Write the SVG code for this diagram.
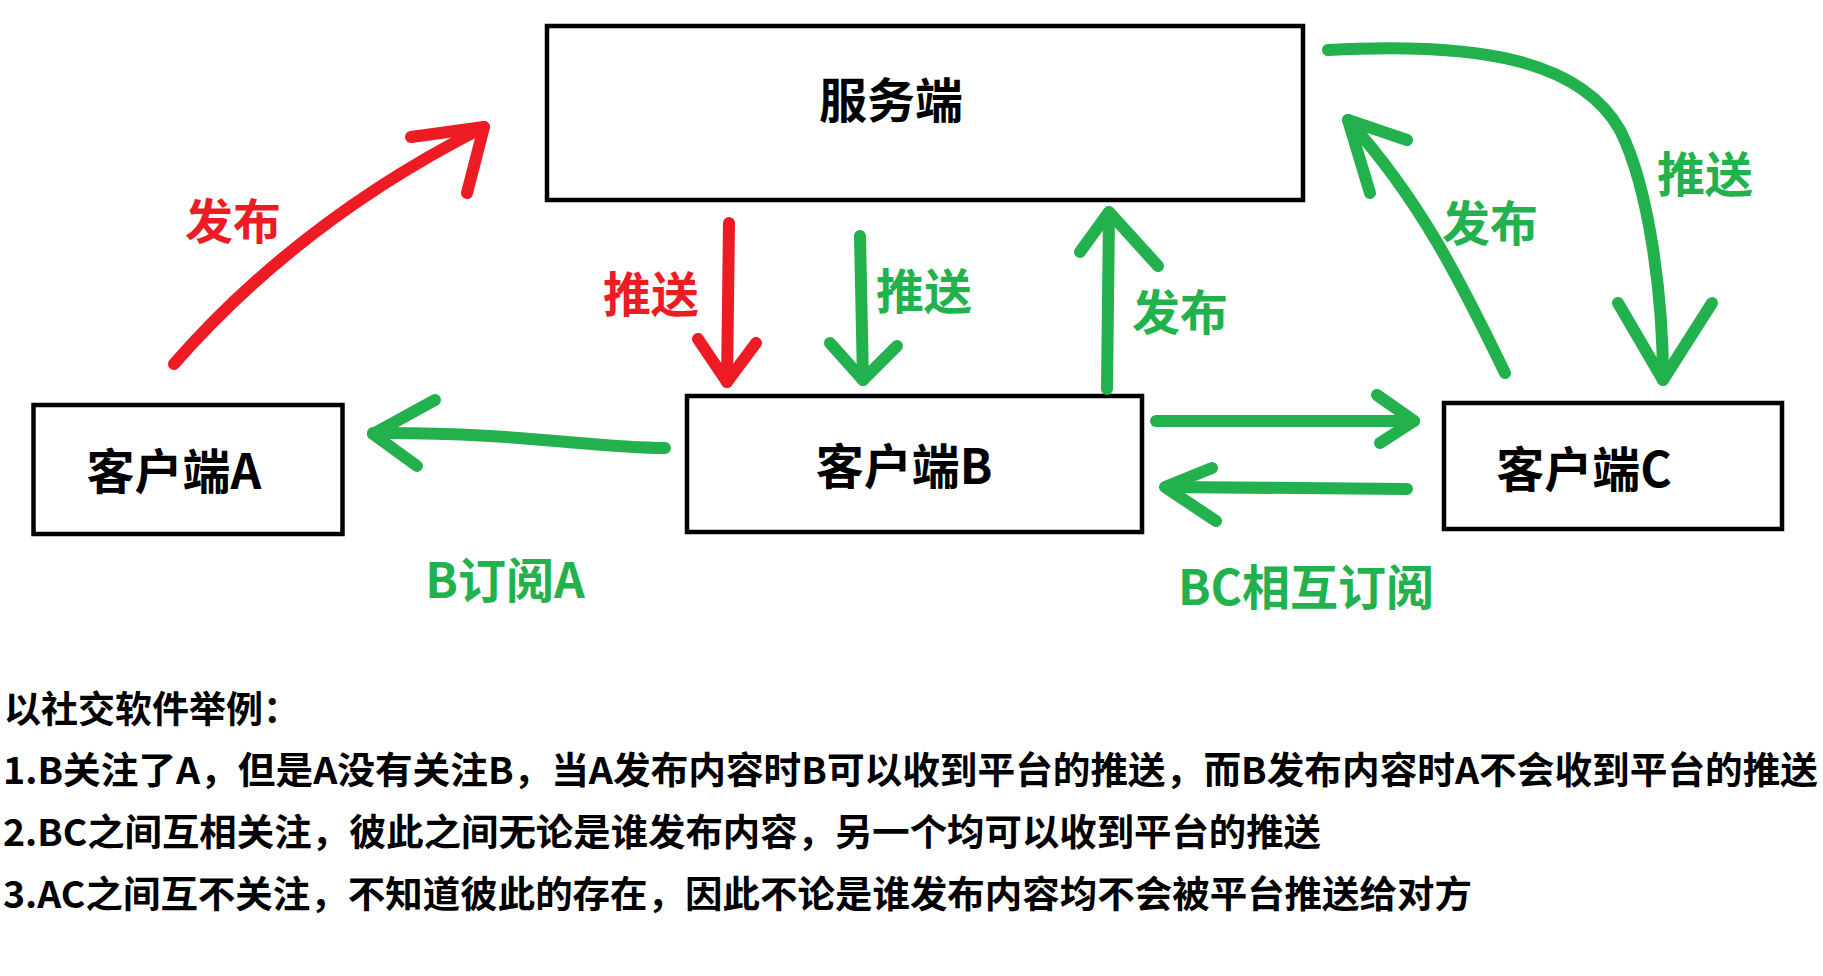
<svg xmlns="http://www.w3.org/2000/svg" width="1823" height="976" viewBox="0 0 1823 976">
<style>
.box{fill:#fff;stroke:#000;stroke-width:4.5}
.t{font-family:"Noto Sans CJK SC","Noto Sans",sans-serif;font-weight:bold}
.node{font-size:48px;fill:#000;text-anchor:middle}
.lbl{font-size:48px;text-anchor:middle}
.red{fill:#ED1C24}
.grn{fill:#22B14C}
.c{fill:none;stroke-width:12;stroke-linecap:round;stroke-linejoin:round}
.cr{stroke:#ED1C24}
.cg{stroke:#22B14C}
.note{font-size:37px;fill:#000}
</style>
<rect width="1823" height="976" fill="#fff"/>
<g id="server">
<rect class="box" x="547" y="26" width="756" height="174"/>
<text class="t node" x="891" y="118">服务端</text>
</g>
<g id="clientA">
<rect class="box" x="33.5" y="405" width="309" height="129"/>
<text class="t node" x="174" y="489">客户端A</text>
</g>
<g id="clientB">
<rect class="box" x="687" y="396" width="455" height="136"/>
<text class="t node" x="904" y="484">客户端B</text>
</g>
<g id="clientC">
<rect class="box" x="1444" y="403" width="338" height="126"/>
<text class="t node" x="1584" y="487">客户端C</text>
</g>
<g id="connectors">
<path class="c cr" d="M174,364 Q300,220 484,127"/>
<path class="c cr" d="M411,137 L484,127 L467,193"/>
<path class="c cr" d="M729,223 L727,382"/>
<path class="c cr" d="M698,339 L727,382 L756,343"/>
<path class="c cg" d="M860,236 L863,380"/>
<path class="c cg" d="M830,343 L863,380 L897,346"/>
<path class="c cg" d="M1107,389 L1109,214"/>
<path class="c cg" d="M1080,252 L1109,212 L1158,266"/>
<path class="c cg" d="M665,448 C590,448 520,432 373,433"/>
<path class="c cg" d="M435,400 L373,434 L417,466"/>
<path class="c cg" d="M1156,421 L1414,421"/>
<path class="c cg" d="M1377,395 L1414,421 L1380,443"/>
<path class="c cg" d="M1407,489 L1167,487"/>
<path class="c cg" d="M1212,468 L1165,487 L1216,521"/>
<path class="c cg" d="M1505,373 C1460,280 1420,200 1348,120"/>
<path class="c cg" d="M1407,140 L1348,120 L1370,193"/>
<path class="c cg" d="M1328,50 C1480,42 1580,60 1620,130 C1650,190 1663,300 1663,380"/>
<path class="c cg" d="M1618,303 L1663,380 L1712,303"/>
</g>
<g id="connector-labels">
<text class="t lbl red" x="233" y="239">发布</text>
<text class="t lbl red" x="651" y="312">推送</text>
<text class="t lbl grn" x="924" y="309">推送</text>
<text class="t lbl grn" x="1180" y="330">发布</text>
<text class="t lbl grn" x="1490" y="241">发布</text>
<text class="t lbl grn" x="1705" y="192">推送</text>
<text class="t lbl grn" x="505" y="598">B订阅A</text>
<text class="t lbl grn" x="1306" y="605">BC相互订阅</text>
</g>
<g id="notes">
<text class="t note" x="4" y="723">以社交软件举例：</text>
<text class="t note" x="3" y="784" textLength="1815" lengthAdjust="spacingAndGlyphs">1.B关注了A，但是A没有关注B，当A发布内容时B可以收到平台的推送，而B发布内容时A不会收到平台的推送</text>
<text class="t note" x="3" y="846" textLength="1318" lengthAdjust="spacingAndGlyphs">2.BC之间互相关注，彼此之间无论是谁发布内容，另一个均可以收到平台的推送</text>
<text class="t note" x="3" y="908" textLength="1469" lengthAdjust="spacingAndGlyphs">3.AC之间互不关注，不知道彼此的存在，因此不论是谁发布内容均不会被平台推送给对方</text>
</g>
</svg>
